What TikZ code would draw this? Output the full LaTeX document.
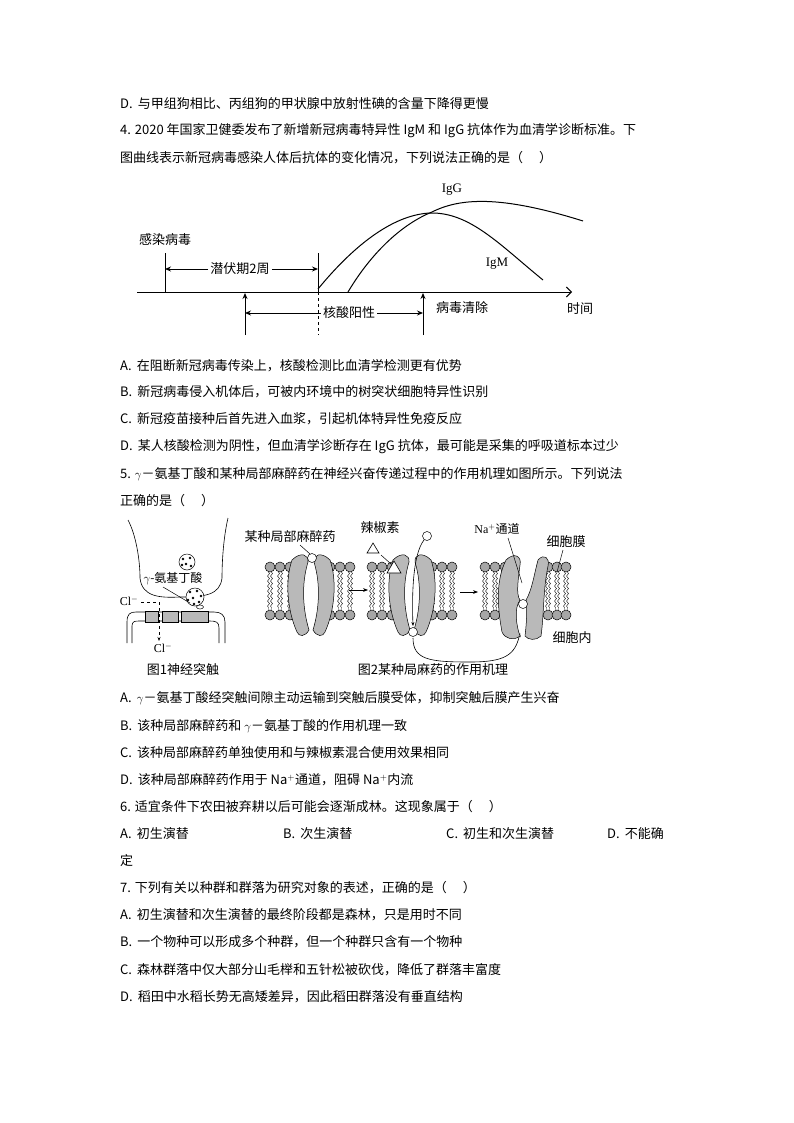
\documentclass[tikz,border=0pt]{standalone}
\usepackage{fontspec}
\setmainfont{Noto Sans CJK SC}
\newfontfamily\ser{Liberation Serif}
\usetikzlibrary{arrows.meta,decorations.pathmorphing}
\tikzset{txt/.style={anchor=west,inner sep=0pt,font=\fontsize{13}{16}\selectfont},
lab/.style={inner sep=0pt,font=\fontsize{13}{16}\selectfont},
ln/.style={line width=1pt},
ar/.style={line width=0.9pt,-{Stealth[length=6pt,width=5pt]}},
head/.style={fill=gray!70,draw=black,line width=0.5pt},
prot/.style={fill=gray!55,draw=black,line width=0.5pt}}
\newcommand\lipidset[3]{% x0, n, spacing
 \foreach \i in {1,...,#2}{
  \pgfmathsetmacro\xx{#1+(\i-1)*#3}
  \draw[decorate,decoration={snake,amplitude=1pt,segment length=5pt},line width=0.4pt] (\xx-1.5,572)--(\xx-1.5,610);
  \draw[decorate,decoration={snake,amplitude=1pt,segment length=5pt},line width=0.4pt] (\xx+1.5,572)--(\xx+1.5,610);
  \draw[head] (\xx,567) circle (5);
  \draw[head] (\xx,615) circle (5);}}
\newcommand\protpair[1]{%
 \draw[prot] (#1-19,560) .. controls (#1-10,551) and (#1-2,555) .. (#1-3,562) .. controls (#1-10,585) and (#1-8,610) .. (#1-2,630) .. controls (#1-6,637) and (#1-12,637) .. (#1-14,632) .. controls (#1-24,610) and (#1-26,580) .. (#1-19,560);
 \draw[prot] (#1+19,560) .. controls (#1+10,551) and (#1+2,555) .. (#1+3,562) .. controls (#1+10,585) and (#1+8,610) .. (#1+2,630) .. controls (#1+6,637) and (#1+12,637) .. (#1+14,632) .. controls (#1+24,610) and (#1+26,580) .. (#1+19,560);}
\begin{document}
\begin{tikzpicture}[x=1pt,y=-1pt]
\useasboundingbox (0,0) rectangle (794,1123);
\fill[white] (0,0) rectangle (794,1123);
\node[txt] (t1) at (120,104) {D.\, 与甲组狗相比、丙组狗的甲状腺中放射性碘的含量下降得更慢};
\node[txt] (t2) at (120,131) {4. 2020 年国家卫健委发布了新增新冠病毒特异性 IgM 和 IgG 抗体作为血清学诊断标准。下};
\node[txt] (t3) at (120,158) {图曲线表示新冠病毒感染人体后抗体的变化情况，下列说法正确的是（\quad\ ）};
% graph
\coordinate (a0) at (137,292); \coordinate (a1) at (572,292);
\draw[ln,-{Straight Barb[length=5pt]}] (a0)--(a1);
\node[lab] (inf) at (165,240) {感染病毒};
\draw[ln] (165,253)--(165,292);
\draw[ln] (318,253)--(318,292);
\draw[ln,dashed] (318,292)--(318,335);
\node[lab,fill=white,inner xsep=2pt] (lat) at (240,269) {潜伏期2周};
\draw[ar] (lat.west)--(165,269); \draw[ar] (lat.east)--(318,269);
\draw[ar] (245,335)--(245,293);
\draw[ar] (423,335)--(423,293);
\node[lab,fill=white,inner xsep=2pt] (pos) at (349,313) {核酸阳性};
\draw[ar] (pos.west)--(245,313); \draw[ar] (pos.east)--(423,313);
\node[lab] (clr) at (462,308) {病毒清除};
\node[lab] (tm) at (580,309) {时间};
\node[lab,font=\ser\fontsize{13}{16}\selectfont] (igg) at (452,190) {IgG};
\node[lab,font=\ser\fontsize{13}{16}\selectfont] (igm) at (497,264) {IgM};
\draw[ln] (318,289) .. controls (350,250) and (390,215) .. (430,213) .. controls (470,212) and (500,245) .. (543,280);
\draw[ln] (348,292) .. controls (370,255) and (400,225) .. (432,212) .. controls (460,198) and (500,195) .. (583,221);
\node[txt] (qa) at (120,366) {A.\, 在阻断新冠病毒传染上，核酸检测比血清学检测更有优势};
\node[txt] (qb) at (120,392) {B.\, 新冠病毒侵入机体后，可被内环境中的树突状细胞特异性识别};
\node[txt] (qc) at (120,419) {C.\, 新冠疫苗接种后首先进入血浆，引起机体特异性免疫反应};
\node[txt] (qd) at (120,447) {D.\, 某人核酸检测为阴性，但血清学诊断存在 IgG 抗体，最可能是采集的呼吸道标本过少};
\node[txt] (q5) at (120,474) {5. $\gamma$－氨基丁酸和某种局部麻醉药在神经兴奋传递过程中的作用机理如图所示。下列说法};
\node[txt] (q5b) at (120,501) {正确的是（\quad\ ）};
% fig1
\draw[line width=0.6pt] (128,520) .. controls (136,535) and (140,560) .. (140,578) .. controls (142,597) and (160,598) .. (180,597) .. controls (205,597) and (220,595) .. (222,578) .. controls (222,558) and (224,535) .. (228,518);
\draw[line width=0.5pt,fill=white] (187,562) circle (8);
\foreach \p in {(183,559),(190,558),(186,564),(191,566),(182,565)} \fill \p circle (1.4);
\draw[line width=0.5pt,fill=white] (195,597) circle (9);
\foreach \p in {(190,592),(197,591),(201,596),(193,598),(188,600),(199,602),(194,604)} \fill \p circle (1.4);
\draw[line width=0.5pt,fill=white] (200,607) ellipse (3.5 and 2);
\node[lab,font=\fontsize{12}{14}\selectfont] (gaba) at (173,579) {$\gamma$-氨基丁酸};
\draw[line width=0.5pt] (163,587)--(190,603);
\draw[line width=0.6pt] (127,643)--(127,622) .. controls (127,614) and (130,612) .. (136,612)--(214,612) .. controls (221,612) and (225,615) .. (225,622)--(225,643);
\draw[line width=0.6pt] (132,643)--(132,626) .. controls (132,621) and (135,621) .. (140,621)--(210,621) .. controls (216,621) and (219,622) .. (219,628)--(219,643);
\draw[prot] (145,611) rectangle (158,622);
\draw[prot] (162,611) rectangle (178,622);
\draw[prot] (181,611) rectangle (208,622);
\node[lab,font=\ser\fontsize{12}{14}\selectfont] (cl1) at (129,601) {Cl$^-$};
\node[lab,font=\ser\fontsize{12}{14}\selectfont] (cl2) at (163,648) {Cl$^-$};
\draw[line width=0.6pt,dashed,-{Stealth[length=4pt]}] (141,602)--(159,602)--(159,641);
\node[lab] (cap1) at (183,670) {图1神经突触};
% fig2
\lipidset{270}{3}{10}\lipidset{330}{3}{10}\protpair{311}
\draw[line width=0.5pt,fill=white] (312,558) circle (4.5);
\node[lab] (drug) at (290,537) {某种局部麻醉药};
\draw[line width=0.5pt] (300,545)--(310,554);
\draw[line width=0.6pt,-{Stealth[length=5pt]}] (349,590)--(368,590);
\lipidset{372}{3}{10}\lipidset{432}{3}{10}\protpair{412}
\draw[line width=0.6pt,fill=white] (367,553)--(379,553)--(373,543)--cycle;
\draw[line width=0.6pt,fill=white] (387,573)--(401,573)--(394,561)--cycle;
\draw[line width=0.5pt] (381,555)--(391,564);
\node[lab] (cap) at (380,528) {辣椒素};
\draw[line width=0.5pt,fill=white] (427,536) circle (4.5);
\draw[line width=0.6pt,-{Stealth[length=4pt]}] (424,540) .. controls (412,555) and (412,600) .. (413,626);
\draw[line width=0.5pt,fill=white] (413,632) circle (4.5);
\draw[line width=0.6pt,-{Stealth[length=4pt]}] (413,638) .. controls (413,660) and (430,662) .. (470,662) .. controls (505,662) and (515,655) .. (520,633);
\draw[line width=0.6pt,-{Stealth[length=5pt]}] (460,592)--(478,592);
\lipidset{485}{3}{10}\lipidset{548}{3}{9}
\draw[prot] (506,560) .. controls (514,552) and (522,556) .. (520,565) .. controls (518,580) and (516,595) .. (520,600) .. controls (514,608) and (516,625) .. (520,636) .. controls (514,641) and (505,639) .. (502,632) .. controls (497,605) and (496,580) .. (506,560);
\draw[prot] (538,560) .. controls (544,553) and (550,558) .. (548,566) .. controls (543,590) and (544,615) .. (541,636) .. controls (536,641) and (528,640) .. (525,636) .. controls (527,620) and (527,608) .. (526,600) .. controls (532,590) and (534,575) .. (538,560);
\draw[line width=0.5pt,fill=white] (523,604) circle (4.5);
\node[lab,font=\fontsize{12}{14}\selectfont] (na) at (497,529) {{\ser Na$^+$}通道};
\draw[line width=0.5pt] (508,538)--(522,583);
\node[lab] (mem) at (566,542) {细胞膜};
\draw[line width=0.5pt] (563,550)--(557,572);
\node[lab] (in) at (572,638) {细胞内};
\node[lab] (cap2) at (433,670) {图2某种局麻药的作用机理};
\node[txt] (r1) at (120,698) {A.\, $\gamma$－氨基丁酸经突触间隙主动运输到突触后膜受体，抑制突触后膜产生兴奋};
\node[txt] (r2) at (120,726) {B.\, 该种局部麻醉药和 $\gamma$－氨基丁酸的作用机理一致};
\node[txt] (r3) at (120,753) {C.\, 该种局部麻醉药单独使用和与辣椒素混合使用效果相同};
\node[txt] (r4) at (120,780) {D.\, 该种局部麻醉药作用于 Na$^+$通道，阻碍 Na$^+$内流};
\node[txt] (s1) at (120,807) {6. 适宜条件下农田被弃耕以后可能会逐渐成林。这现象属于（\quad\ ）};
\node[txt] (s2) at (120,834) {A.\, 初生演替};
\node[txt] (s3) at (283,834) {B.\, 次生演替};
\node[txt] (s4) at (446,834) {C.\, 初生和次生演替};
\node[txt] (s5) at (607,834) {D.\, 不能确};
\node[txt] (s6) at (120,861) {定};
\node[txt] (u1) at (120,888) {7. 下列有关以种群和群落为研究对象的表述，正确的是（\quad\ ）};
\node[txt] (u2) at (120,915) {A.\, 初生演替和次生演替的最终阶段都是森林，只是用时不同};
\node[txt] (u3) at (120,942) {B.\, 一个物种可以形成多个种群，但一个种群只含有一个物种};
\node[txt] (u4) at (120,970) {C.\, 森林群落中仅大部分山毛榉和五针松被砍伐，降低了群落丰富度};
\node[txt] (u5) at (120,997) {D.\, 稻田中水稻长势无高矮差异，因此稻田群落没有垂直结构};
\end{tikzpicture}
\end{document}
